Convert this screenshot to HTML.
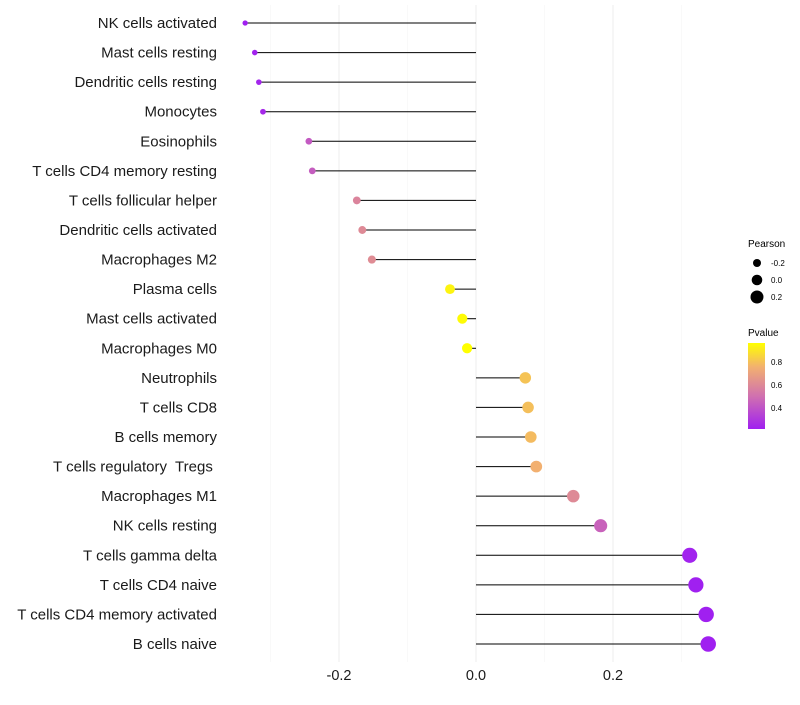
<!DOCTYPE html>
<html><head><meta charset="utf-8"><style>
body{margin:0;background:#fff;font-family:"Liberation Sans",sans-serif;}
svg text{font-family:"Liberation Sans",sans-serif;white-space:pre;}
</style></head><body>
<svg id="chart" width="800" height="700" xmlns="http://www.w3.org/2000/svg">
<g id="grid"></g>
<g id="marks"></g>
<g id="ylabels"></g>
<g id="xlabels"></g>
<g id="legend">
<text x="748" y="247" font-size="10">Pearson</text>
<circle cx="757" cy="263" r="4" fill="#000"/>
<text x="771" y="266" font-size="8">-0.2</text>
<circle cx="757" cy="280" r="5.3" fill="#000"/>
<text x="771" y="283" font-size="8">0.0</text>
<circle cx="757" cy="297" r="6.5" fill="#000"/>
<text x="771" y="300" font-size="8">0.2</text>
<text x="748" y="336" font-size="10">Pvalue</text>
<defs><linearGradient id="cb" x1="0" y1="1" x2="0" y2="0">
<stop offset="0" stop-color="#A020F0"/><stop offset="0.38" stop-color="#D070B0"/><stop offset="0.72" stop-color="#F2B070"/><stop offset="1" stop-color="#FFFF00"/>
</linearGradient></defs>
<rect x="748" y="343" width="17" height="86" fill="url(#cb)"/>
<text x="771" y="365" font-size="8">0.8</text>
<text x="771" y="388" font-size="8">0.6</text>
<text x="771" y="411" font-size="8">0.4</text>
</g>
</svg>
<script>
const categories=["NK cells activated","Mast cells resting","Dendritic cells resting","Monocytes","Eosinophils","T cells CD4 memory resting","T cells follicular helper","Dendritic cells activated","Macrophages M2","Plasma cells","Mast cells activated","Macrophages M0","Neutrophils","T cells CD8","B cells memory","T cells regulatory  Tregs ","Macrophages M1","NK cells resting","T cells gamma delta","T cells CD4 naive","T cells CD4 memory activated","B cells naive"];
const pearson=[-0.337,-0.323,-0.317,-0.311,-0.244,-0.239,-0.174,-0.166,-0.152,-0.038,-0.020,-0.013,0.072,0.076,0.080,0.088,0.142,0.182,0.312,0.321,0.336,0.339];
const pvalue=[0.20,0.22,0.23,0.24,0.42,0.43,0.58,0.60,0.61,0.93,0.95,0.97,0.80,0.79,0.78,0.75,0.60,0.45,0.22,0.21,0.20,0.20];
const xTicks=[-0.2,0.0,0.2];
const xMinor=[-0.3,-0.1,0.1,0.3];
const NS="http://www.w3.org/2000/svg";
const x=v=>476+685*v;
const y=i=>23+i*(621/21);
const r=v=>5.2+7.5*v;
const stops=[[0.21,[160,32,240]],[0.5,[208,112,176]],[0.75,[242,176,112]],[0.96,[255,255,0]]];
function col(p){if(p<=stops[0][0])return "rgb("+stops[0][1]+")";for(let k=1;k<stops.length;k++){if(p<=stops[k][0]){const a=stops[k-1],b=stops[k],t=(p-a[0])/(b[0]-a[0]);return "rgb("+a[1].map((c,j)=>Math.round(c+(b[1][j]-c)*t)).join(",")+")";}}return "rgb(255,255,0)";}
function mk(tag,attrs,parent){const e=document.createElementNS(NS,tag);for(const k in attrs)e.setAttribute(k,attrs[k]);parent.appendChild(e);return e;}
const grid=document.getElementById('grid'),marks=document.getElementById('marks'),yl=document.getElementById('ylabels'),xl=document.getElementById('xlabels');
xMinor.forEach(v=>{const l=mk('line',{x1:x(v),x2:x(v),y1:5,y2:662,stroke:'#f5f5f5','stroke-width':0.6},grid);

});
xTicks.forEach(v=>{const l=mk('line',{x1:x(v),x2:x(v),y1:5,y2:662,stroke:'#efefef','stroke-width':1.1},grid);


const t=mk('text',{x:x(v),y:680,'font-size':14.5,'text-anchor':'middle',fill:'#1a1a1a'},xl);t.textContent=v.toFixed(1);

});
categories.forEach((c,i)=>{const l=mk('line',{x1:x(0),x2:x(pearson[i]),y1:y(i),y2:y(i),stroke:'#000','stroke-width':1},marks);


const p=mk('circle',{cx:x(pearson[i]),cy:y(i),r:r(pearson[i]),fill:col(pvalue[i])},marks);


const t=mk('text',{x:217,y:y(i)+5,'font-size':15,'text-anchor':'end',fill:'#1a1a1a'},yl);t.textContent=c;

});
</script>
</body></html>
